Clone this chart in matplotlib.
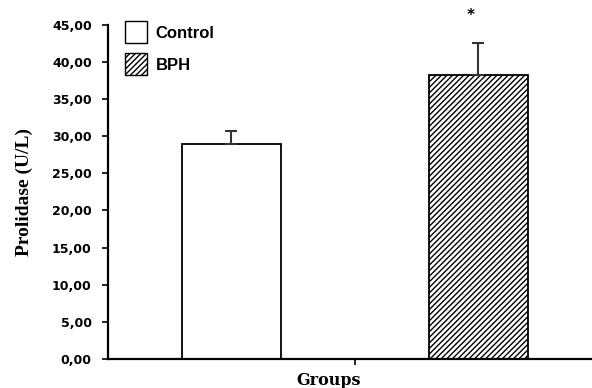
import matplotlib
matplotlib.use("Agg")
import matplotlib.pyplot as plt
from matplotlib.patches import Patch
from matplotlib.font_manager import FontProperties

groups = ["Control", "BPH"]
means = [29.0, 38.2]
errors = [1.7, 4.4]
yticks = [0, 5, 10, 15, 20, 25, 30, 35, 40, 45]

plt.rcParams["hatch.linewidth"] = 1.0

tick_font = FontProperties(family="DejaVu Sans", weight="bold", size=9)
leg_font = FontProperties(family="Liberation Sans", weight="bold", stretch="normal", size=12)
ylab_font = FontProperties(family="Liberation Serif", weight="bold", size=14)
xlab_font = FontProperties(family="DejaVu Serif", weight="bold", size=11.5)

fig = plt.figure(figsize=(5.92, 3.88), dpi=100)
ax = fig.add_axes([0.182, 0.075, 0.818, 0.861])

x = [0, 1]
bars = ax.bar(x, means, width=0.4, color="white", edgecolor="black", linewidth=1.3)
bars[1].set_hatch("//////")
ax.errorbar(x, means, yerr=[[0, 0], errors], fmt="none", ecolor="#333333",
            elinewidth=1.5, capsize=4, capthick=1.5)
ax.text(0.97, 46.3, "*", ha="center", va="center", fontsize=11,
        fontweight="bold", clip_on=False)

ax.set_xlim(-0.5, 1.46)
ax.set_ylim(0, 45)
ax.set_yticks(yticks)
ax.set_yticklabels([f"{v:.2f}".replace(".", ",") for v in yticks])
for lab in ax.get_yticklabels():
    lab.set_fontproperties(tick_font)
ax.set_xticks([0.5])
ax.set_xticklabels([""])
ax.tick_params(axis="both", direction="out", length=4, width=1.2)
ax.tick_params(axis="y", pad=7.5)
ax.spines["top"].set_visible(False)
ax.spines["right"].set_visible(False)
ax.spines["left"].set_linewidth(1.6)
ax.spines["bottom"].set_linewidth(1.6)

ax.set_ylabel("Prolidase (U/L)", fontproperties=ylab_font)
ax.yaxis.set_label_coords(-0.155, 0.5)
ax.set_xlabel("Groups", fontproperties=xlab_font)
ax.xaxis.set_label_coords((329 - 108) / 484, -0.04)

handles = [Patch(facecolor="white", edgecolor="black", label="Control"),
           Patch(facecolor="white", edgecolor="black", hatch="//////", label="BPH")]
ax.legend(handles=handles, loc="upper left", bbox_to_anchor=(0.004, 1.055), frameon=False,
          prop=leg_font, handlelength=1.35, handleheight=1.65, labelspacing=0.6,
          handletextpad=0.5)

fig.savefig("out.png", dpi=100)
